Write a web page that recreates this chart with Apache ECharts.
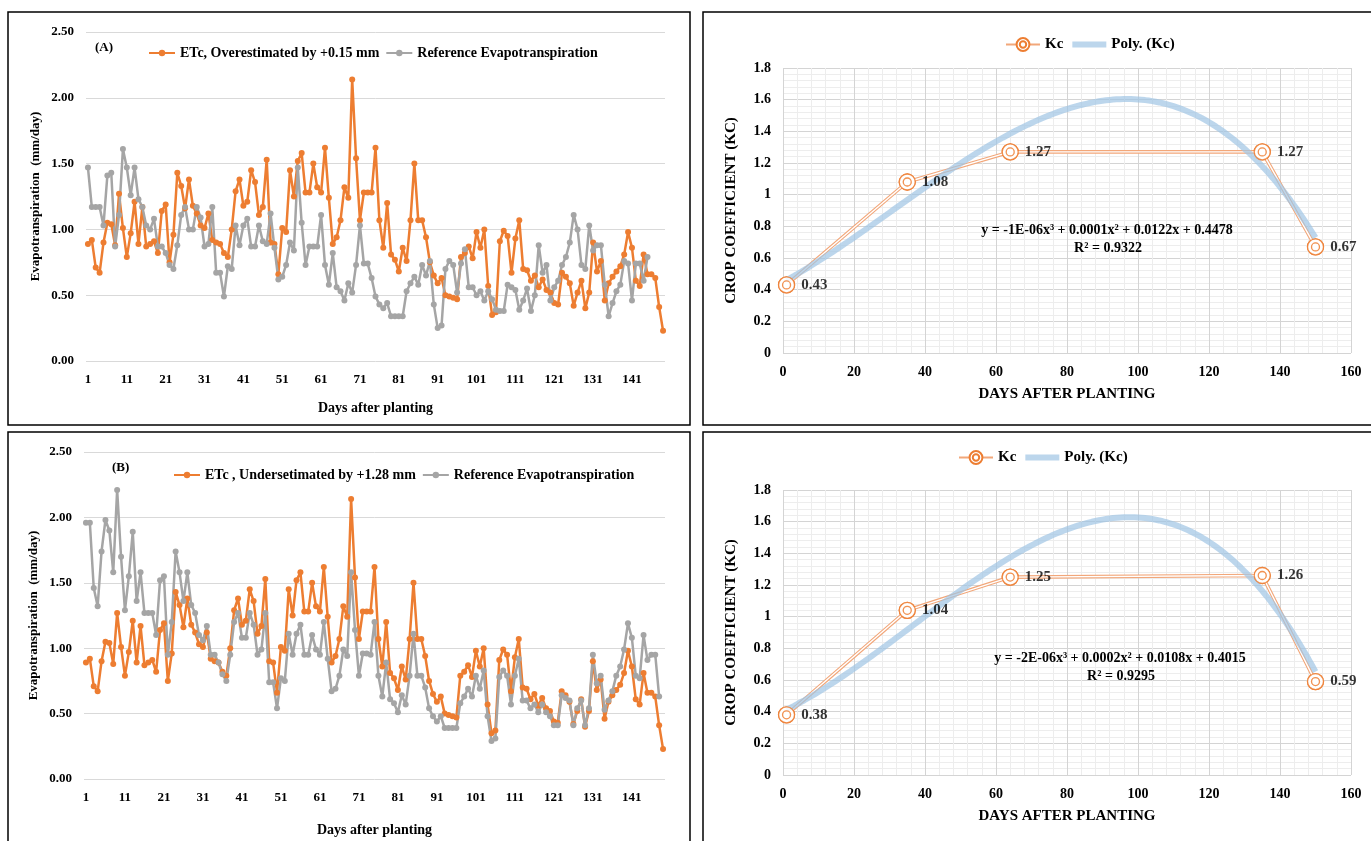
<!DOCTYPE html>
<html><head><meta charset="utf-8">
<script src="https://cdn.jsdelivr.net/npm/echarts@6/dist/echarts.min.js"></script>
<style>html,body{margin:0;padding:0;background:#fff}#c{width:1371px;height:841px}</style>
</head><body><div id="c"></div>
<script>
// ---------- DATA ----------
const days = Array.from({length:149},(_,i)=>String(i+1));
const etc = [0.89,0.92,0.71,0.67,0.90,1.05,1.04,0.88,1.27,1.01,
0.79,0.97,1.21,0.89,1.17,0.87,0.89,0.91,0.82,1.14,
1.19,0.75,0.96,1.43,1.33,1.16,1.38,1.18,1.12,1.03,
1.01,1.12,0.92,0.90,0.89,0.82,0.79,1.00,1.29,1.38,
1.18,1.21,1.45,1.36,1.11,1.17,1.53,0.90,0.89,0.66,
1.01,0.98,1.45,1.25,1.52,1.58,1.28,1.28,1.50,1.32,
1.28,1.62,1.24,0.89,0.94,1.07,1.32,1.24,2.14,1.54,
1.07,1.28,1.28,1.28,1.62,1.07,0.86,1.20,0.81,0.77,
0.68,0.86,0.76,1.07,1.50,1.07,1.07,0.94,0.75,0.65,
0.59,0.63,0.50,0.49,0.48,0.47,0.79,0.82,0.87,0.78,
0.98,0.86,1.00,0.57,0.35,0.37,0.91,0.99,0.95,0.67,
0.93,1.07,0.70,0.69,0.61,0.65,0.56,0.62,0.54,0.52,
0.44,0.43,0.67,0.64,0.59,0.42,0.52,0.61,0.40,0.52,
0.90,0.68,0.76,0.46,0.59,0.64,0.68,0.72,0.81,0.98,
0.86,0.61,0.57,0.81,0.66,0.66,0.63,0.41,0.23];
const refA = [1.47,1.17,1.17,1.17,1.03,1.41,1.43,0.87,1.11,1.61,
1.47,1.26,1.47,1.23,1.17,1.03,1.00,1.08,0.87,0.87,
0.82,0.73,0.70,0.88,1.11,1.17,1.00,1.00,1.17,1.09,
0.87,0.89,1.17,0.67,0.67,0.49,0.72,0.70,1.03,0.88,
1.03,1.08,0.87,0.87,1.03,0.91,0.89,1.12,0.86,0.62,
0.64,0.73,0.90,0.84,1.47,1.05,0.73,0.87,0.87,0.87,
1.11,0.73,0.58,0.82,0.56,0.53,0.46,0.59,0.52,0.73,
1.03,0.74,0.74,0.63,0.49,0.43,0.40,0.44,0.34,0.34,
0.34,0.34,0.53,0.59,0.64,0.58,0.73,0.65,0.76,0.43,
0.25,0.27,0.70,0.76,0.73,0.52,0.74,0.85,0.56,0.56,
0.50,0.53,0.46,0.53,0.47,0.39,0.38,0.38,0.58,0.56,
0.54,0.39,0.46,0.55,0.38,0.50,0.88,0.67,0.73,0.46,
0.56,0.61,0.73,0.79,0.90,1.11,1.00,0.73,0.70,1.03,
0.84,0.88,0.88,0.58,0.34,0.44,0.53,0.58,0.76,0.74,
0.46,0.74,0.74,0.61,0.79];
const refB = [1.96,1.96,1.46,1.32,1.74,1.98,1.90,1.58,2.21,1.70,
1.29,1.55,1.89,1.36,1.58,1.27,1.27,1.27,1.10,1.52,
1.55,0.95,1.20,1.74,1.58,1.36,1.58,1.33,1.27,1.10,
1.06,1.17,0.95,0.95,0.89,0.80,0.75,0.95,1.20,1.27,
1.08,1.08,1.27,1.18,0.95,0.99,1.27,0.74,0.74,0.54,
0.77,0.75,1.11,0.95,1.11,1.18,0.95,0.95,1.10,0.99,
0.95,1.20,0.92,0.67,0.69,0.79,0.99,0.94,1.58,1.14,
0.79,0.96,0.96,0.95,1.20,0.79,0.63,0.89,0.61,0.58,
0.51,0.64,0.57,0.79,1.11,0.79,0.79,0.70,0.54,0.48,
0.44,0.48,0.39,0.39,0.39,0.39,0.58,0.63,0.69,0.63,
0.79,0.69,0.83,0.48,0.29,0.31,0.78,0.83,0.79,0.57,
0.79,0.92,0.60,0.60,0.54,0.57,0.51,0.57,0.51,0.48,
0.41,0.41,0.64,0.62,0.60,0.41,0.54,0.60,0.41,0.54,
0.95,0.73,0.79,0.53,0.60,0.67,0.79,0.86,0.99,1.19,
1.08,0.79,0.77,1.10,0.91,0.95,0.95,0.63];
const kcDaysA = [1,35,64,135,150];
const kcA = [0.43,1.08,1.27,1.27,0.67];
const kcDaysB = [1,35,64,135,150];
const kcB = [0.38,1.04,1.25,1.26,0.59];
const eqA = ['y = -1E-06x³ + 0.0001x² + 0.0122x + 0.4478','R² = 0.9322'];
const eqB = ['y = -2E-06x³ + 0.0002x² + 0.0108x + 0.4015','R² = 0.9295'];
const nameEtcA = 'ETc, Overestimated by +0.15 mm';
const nameEtcB = 'ETc , Undersetimated by +1.28 mm';
const nameRef = 'Reference Evapotranspiration';

// ---------- helpers ----------
const FF = "'Liberation Serif','Times New Roman',serif";
const ORANGE = '#ED7D31', GRAY = '#A5A5A5', BLUE = 'rgba(160,196,228,0.7)';
function polyfit(xs, ys, deg){
  const n = deg+1, s = 100;
  const A = [], b = [];
  for(let i=0;i<n;i++){A.push(new Array(n).fill(0)); b.push(0);}
  xs.forEach((x,k)=>{const t=x/s;
    for(let i=0;i<n;i++){ b[i]+=ys[k]*Math.pow(t,i);
      for(let j=0;j<n;j++) A[i][j]+=Math.pow(t,i+j);} });
  for(let c=0;c<n;c++){
    let p=c; for(let r=c+1;r<n;r++) if(Math.abs(A[r][c])>Math.abs(A[p][c])) p=r;
    [A[c],A[p]]=[A[p],A[c]]; [b[c],b[p]]=[b[p],b[c]];
    for(let r=0;r<n;r++){ if(r===c) continue; const f=A[r][c]/A[c][c];
      for(let j=c;j<n;j++) A[r][j]-=f*A[c][j]; b[r]-=f*b[c]; }
  }
  const co = b.map((v,i)=>v/A[i][i]);
  return x=>{const t=x/s; let y=0; for(let i=0;i<n;i++) y+=co[i]*Math.pow(t,i); return y;};
}
function trend(xs, ys){
  const f = polyfit(xs, ys, 3); const out=[];
  for(let x=xs[0]; x<=xs[xs.length-1]; x+=1) out.push([x, f(x)]);
  return out;
}
const ringPath = 'path://M0,10a10,10 0 1,0 20,0a10,10 0 1,0 -20,0Z M5,10a5,5 0 1,0 10,0a5,5 0 1,0 -10,0Z';

const bold = (sz)=>({fontFamily:FF, fontWeight:'bold', fontSize:sz, color:'#000'});

function leftX(gi, nameGap){
  return {type:'category', gridIndex:gi, data:days, boundaryGap:true,
    axisLine:{show:false}, axisTick:{show:false},
    axisLabel:Object.assign({interval:9, margin:12}, bold(13)),
    name:'Days after planting', nameLocation:'middle', nameGap:nameGap, nameTextStyle:bold(14)};
}
function leftY(gi){
  return {type:'value', gridIndex:gi, min:0, max:2.5, interval:0.5,
    axisLine:{show:false}, axisTick:{show:false},
    axisLabel:Object.assign({formatter:v=>v.toFixed(2), margin:12}, bold(13)),
    splitLine:{lineStyle:{color:'#D9D9D9', width:1}},
    name:'Evapotranspiration  (mm/day)', nameLocation:'middle', nameGap:44, nameTextStyle:bold(13)};
}
function rightX(gi){
  return {type:'value', gridIndex:gi, min:0, max:160, interval:20,
    axisLine:{show:false}, axisTick:{show:false},
    axisLabel:Object.assign({margin:12}, bold(14)),
    splitLine:{lineStyle:{color:'#D4D4D4', width:1}},
    minorSplitLine:{show:true, lineStyle:{color:'#EDEDED', width:1}},
    minorTick:{show:false, splitNumber:5},
    name:'DAYS AFTER PLANTING', nameLocation:'middle', nameGap:34, nameTextStyle:bold(15)};
}
function rightY(gi){
  return {type:'value', gridIndex:gi, min:0, max:1.8, interval:0.2,
    axisLine:{show:false}, axisTick:{show:false},
    axisLabel:Object.assign({margin:12}, bold(14)),
    splitLine:{lineStyle:{color:'#D4D4D4', width:1}},
    minorSplitLine:{show:true, lineStyle:{color:'#EDEDED', width:1}},
    minorTick:{show:false, splitNumber:5},
    name:'CROP COEFFICIENT (KC)', nameLocation:'middle', nameGap:44, nameTextStyle:bold(15)};
}
function lineSeries(name, data, color, idx){
  return {type:'line', name, data, xAxisIndex:idx, yAxisIndex:idx,
    symbol:'circle', symbolSize:6, showSymbol:true, showAllSymbol:true,
    lineStyle:{color, width:2.5}, itemStyle:{color}, z:2, animation:false};
}
function kcSeries(xs, ys, idx){
  const pts = xs.map((x,i)=>[x, ys[i]]);
  return [
    {type:'line', name:'Kc', data:pts, xAxisIndex:idx, yAxisIndex:idx,
      symbol:ringPath, symbolSize:16, lineStyle:{color:'#F2A77A', width:3.6},
      itemStyle:{color:'#fff', borderColor:ORANGE, borderWidth:1.3}, z:2, animation:false},
    {type:'line', name:'kcw'+idx, data:pts, xAxisIndex:idx, yAxisIndex:idx, silent:true,
      symbol:'none', lineStyle:{color:'#fff', width:1.4}, z:3, animation:false},
    {type:'line', name:'Poly. (Kc)', data:trend(xs, ys), xAxisIndex:idx, yAxisIndex:idx,
      symbol:'none', smooth:false, lineStyle:{color:BLUE, width:6}, itemStyle:{color:BLUE}, z:4, animation:false},
    {type:'scatter', name:'kcm'+idx, data:pts, xAxisIndex:idx, yAxisIndex:idx, silent:true,
      symbol:ringPath, symbolSize:16,
      itemStyle:{color:'#fff', borderColor:ORANGE, borderWidth:1.3}, z:5, animation:false,
      label:{show:true, position:'right', distance:6, formatter:p=>p.value[1].toFixed(2),
        fontFamily:FF, fontWeight:'bold', fontSize:15, color:'#000'}}
  ];
}

const chart = echarts.init(document.getElementById('c'), null, {renderer:'canvas'});
const legendText = bold(14);
const kcLegendData = [
  {name:'Kc'},
  {name:'Poly. (Kc)', itemStyle:{opacity:0}, lineStyle:{color:BLUE, width:6, opacity:1}}
];
const eqFont = "bold 14px 'Liberation Serif'";
chart.setOption({
  backgroundColor:'#fff',
  animation:false,
  grid:[
    {left:86, top:32, width:579, height:329},
    {left:84, top:452, width:581, height:327},
    {left:783, top:68, width:568, height:285},
    {left:783, top:490, width:568, height:285}
  ],
  xAxis:[leftX(0,40), leftX(1,44), rightX(2), rightX(3)],
  yAxis:[leftY(0), leftY(1), rightY(2), rightY(3)],
  legend:[
    {data:[nameEtcA, nameRef], left:148, top:46, itemWidth:26, itemHeight:8, itemGap:6, textStyle:legendText, padding:0},
    {data:[nameEtcB, nameRef], left:173, top:468, itemWidth:26, itemHeight:8, itemGap:6, textStyle:legendText, padding:0},
    {data:kcLegendData, left:1005, top:37, itemWidth:34, itemHeight:16, itemGap:6, textStyle:bold(15), padding:0},
    {data:kcLegendData, left:958, top:450, itemWidth:34, itemHeight:16, itemGap:6, textStyle:bold(15), padding:0}
  ],
  series:[
    lineSeries(nameEtcA, etc, ORANGE, 0),
    lineSeries(nameRef, refA, GRAY, 0),
    lineSeries(nameEtcB, etc, ORANGE, 1),
    lineSeries(nameRef, refB, GRAY, 1),
    ...kcSeries(kcDaysA, kcA, 2),
    ...kcSeries(kcDaysB, kcB, 3)
  ],
  graphic:[
    {type:'rect', z:100, shape:{x:8, y:12, width:682, height:413}, style:{fill:'none', stroke:'#000', lineWidth:1.5}, silent:true},
    {type:'rect', z:100, shape:{x:8, y:432, width:682, height:420}, style:{fill:'none', stroke:'#000', lineWidth:1.5}, silent:true},
    {type:'rect', z:100, shape:{x:703, y:12, width:680, height:413}, style:{fill:'none', stroke:'#000', lineWidth:1.5}, silent:true},
    {type:'rect', z:100, shape:{x:703, y:432, width:680, height:420}, style:{fill:'none', stroke:'#000', lineWidth:1.5}, silent:true},
    {type:'text', z:100, left:95, top:41, style:{text:'(A)', font:"bold 13px 'Liberation Serif'", fill:'#000'}},
    {type:'text', z:100, left:112, top:461, style:{text:'(B)', font:"bold 13px 'Liberation Serif'", fill:'#000'}},
    {type:'text', z:100, x:1107, y:230, style:{text:eqA[0], font:eqFont, fill:'#000', align:'center', verticalAlign:'middle'}},
    {type:'text', z:100, x:1108, y:248, style:{text:eqA[1], font:eqFont, fill:'#000', align:'center', verticalAlign:'middle'}},
    {type:'text', z:100, x:1120, y:658, style:{text:eqB[0], font:eqFont, fill:'#000', align:'center', verticalAlign:'middle'}},
    {type:'text', z:100, x:1121, y:676, style:{text:eqB[1], font:eqFont, fill:'#000', align:'center', verticalAlign:'middle'}}
  ]
});
</script></body></html>
